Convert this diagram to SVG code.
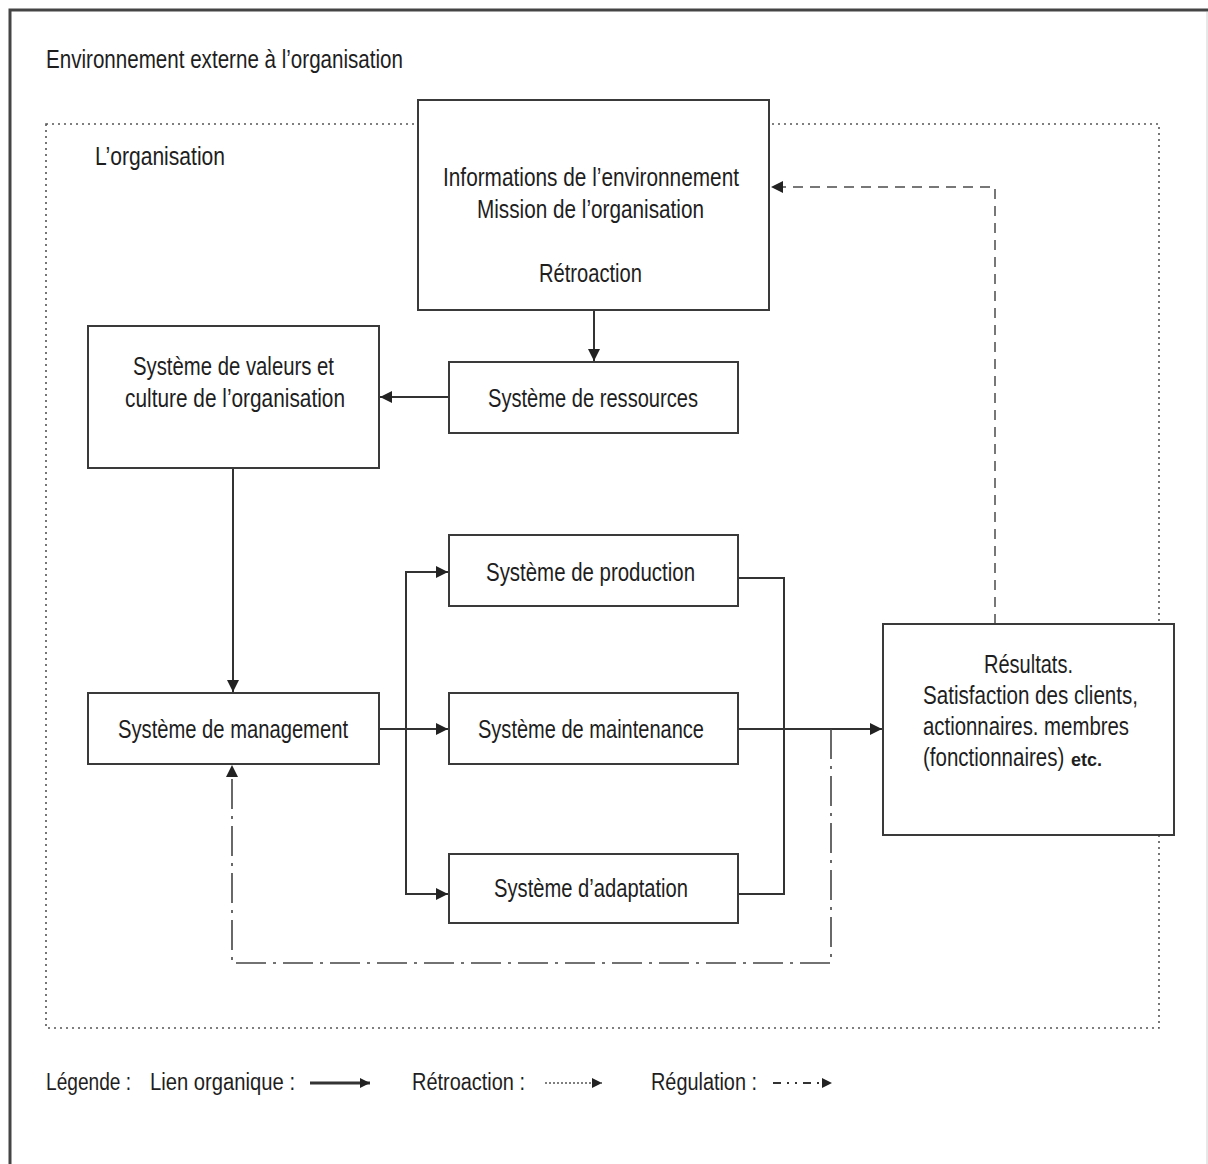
<svg xmlns="http://www.w3.org/2000/svg" width="1208" height="1164" viewBox="0 0 1208 1164">
  <style>
    .box { fill: #fff; stroke: #3a3a3a; stroke-width: 2; }
    .lbl { font-family: "Liberation Sans", Arial, sans-serif; font-size: 25px; fill: #1e1e1e; }
    .leg { font-family: "Liberation Sans", Arial, sans-serif; font-size: 23px; fill: #1e1e1e; }
    .link { fill: none; stroke: #333; stroke-width: 2; }
    .feedback { fill: none; stroke: #777; stroke-width: 2; stroke-dasharray: 10 7; }
    .regul { fill: none; stroke: #444; stroke-width: 1.6; stroke-dasharray: 30 7 3 7; }
    .frame { fill: none; stroke: #444; stroke-width: 3; }
    .org { fill: none; stroke: #555; stroke-width: 1.6; stroke-dasharray: 2 4; }
  </style>
  <defs>
    <marker id="arr" viewBox="0 0 10 10" refX="10" refY="5" markerWidth="12" markerHeight="12" markerUnits="userSpaceOnUse" orient="auto">
      <path d="M0,0 L10,5 L0,10 z" fill="#222"/>
    </marker>
    <marker id="arrS" viewBox="0 0 10 10" refX="10" refY="5" markerWidth="10" markerHeight="10" markerUnits="userSpaceOnUse" orient="auto">
      <path d="M0,0 L10,5 L0,10 z" fill="#222"/>
    </marker>
  </defs>

  <rect width="1208" height="1164" fill="#fff"/>

  <!-- outer frame: external environment -->
  <g id="environment">
    <path class="frame" d="M10,1164 V10 H1208"/>
    <line x1="1207" y1="12" x2="1207" y2="1164" stroke="#d0d0d0" stroke-width="1"/>
    <text class="lbl" x="46" y="68" textLength="357" lengthAdjust="spacingAndGlyphs">Environnement externe à l’organisation</text>
  </g>

  <!-- dotted boundary: the organisation -->
  <g id="organisation">
    <rect class="org" x="46" y="124" width="1113" height="904"/>
    <text class="lbl" x="95" y="165" textLength="130" lengthAdjust="spacingAndGlyphs">L’organisation</text>
  </g>

  <!-- connectors -->
  <g id="connectors">
    <!-- organic links -->
    <line class="link" x1="594" y1="310" x2="594" y2="361" marker-end="url(#arr)"/>
    <line class="link" x1="449" y1="397" x2="380" y2="397" marker-end="url(#arr)"/>
    <line class="link" x1="233" y1="468" x2="233" y2="692" marker-end="url(#arr)"/>
    <line class="link" x1="379" y1="729" x2="448" y2="729" marker-end="url(#arr)"/>
    <line class="link" x1="406" y1="571" x2="406" y2="895"/>
    <polyline class="link" points="406,572 448,572" marker-end="url(#arr)"/>
    <polyline class="link" points="406,894 448,894" marker-end="url(#arr)"/>
    <polyline class="link" points="738,578 784,578 784,894 738,894"/>
    <line class="link" x1="738" y1="729" x2="882" y2="729" marker-end="url(#arr)"/>
    <!-- feedback -->
    <polyline class="feedback" points="995,624 995,187 771,187" marker-end="url(#arr)"/>
    <!-- regulation -->
    <polyline class="regul" points="831,729 831,963 232,963 232,765" marker-end="url(#arr)"/>
  </g>

  <g id="informations">
    <rect class="box" x="418" y="100" width="351" height="210"/>
    <text class="lbl" x="443" y="186" textLength="296" lengthAdjust="spacingAndGlyphs">Informations de l’environnement</text>
    <text class="lbl" x="477" y="218" textLength="227" lengthAdjust="spacingAndGlyphs">Mission de l’organisation</text>
    <text class="lbl" x="539" y="282" textLength="103" lengthAdjust="spacingAndGlyphs">Rétroaction</text>
  </g>

  <g id="valeurs">
    <rect class="box" x="88" y="326" width="291" height="142"/>
    <text class="lbl" x="133" y="375" textLength="201" lengthAdjust="spacingAndGlyphs">Système de valeurs et</text>
    <text class="lbl" x="125" y="407" textLength="220" lengthAdjust="spacingAndGlyphs">culture de l’organisation</text>
  </g>

  <g id="ressources">
    <rect class="box" x="449" y="362" width="289" height="71"/>
    <text class="lbl" x="488" y="407" textLength="210" lengthAdjust="spacingAndGlyphs">Système de ressources</text>
  </g>

  <g id="production">
    <rect class="box" x="449" y="535" width="289" height="71"/>
    <text class="lbl" x="486" y="581" textLength="209" lengthAdjust="spacingAndGlyphs">Système de production</text>
  </g>

  <g id="management">
    <rect class="box" x="88" y="693" width="291" height="71"/>
    <text class="lbl" x="118" y="738" textLength="230" lengthAdjust="spacingAndGlyphs">Système de management</text>
  </g>

  <g id="maintenance">
    <rect class="box" x="449" y="693" width="289" height="71"/>
    <text class="lbl" x="478" y="738" textLength="226" lengthAdjust="spacingAndGlyphs">Système de maintenance</text>
  </g>

  <g id="adaptation">
    <rect class="box" x="449" y="854" width="289" height="69"/>
    <text class="lbl" x="494" y="897" textLength="194" lengthAdjust="spacingAndGlyphs">Système d’adaptation</text>
  </g>

  <g id="resultats">
    <rect class="box" x="883" y="624" width="291" height="211"/>
    <text class="lbl" x="984" y="673" textLength="89" lengthAdjust="spacingAndGlyphs">Résultats.</text>
    <text class="lbl" x="923" y="704" textLength="215" lengthAdjust="spacingAndGlyphs">Satisfaction des clients,</text>
    <text class="lbl" x="923" y="735" textLength="206" lengthAdjust="spacingAndGlyphs">actionnaires. membres</text>
    <!-- condensed by scaling so the box width stays true -->
    <text class="lbl" transform="translate(923,766) scale(0.82,1)">(fonctionnaires)</text>
    <text x="1071" y="766" font-family="Liberation Sans, Arial, sans-serif" font-size="18" font-weight="bold" fill="#1e1e1e">etc.</text>
  </g>

  <!-- legend -->
  <g id="legende">
    <text class="leg" x="46" y="1090" textLength="85" lengthAdjust="spacingAndGlyphs">Légende :</text>
    <text class="leg" x="150" y="1090" textLength="145" lengthAdjust="spacingAndGlyphs">Lien organique :</text>
    <line x1="310" y1="1083" x2="370" y2="1083" stroke="#333" stroke-width="3" marker-end="url(#arrS)"/>
    <text class="leg" x="412" y="1090" textLength="113" lengthAdjust="spacingAndGlyphs">Rétroaction :</text>
    <line x1="545" y1="1083" x2="602" y2="1083" stroke="#555" stroke-width="1.5" stroke-dasharray="2 2" marker-end="url(#arrS)"/>
    <text class="leg" x="651" y="1090" textLength="106" lengthAdjust="spacingAndGlyphs">Régulation :</text>
    <line x1="773" y1="1083" x2="832" y2="1083" stroke="#333" stroke-width="2" stroke-dasharray="8 6 2 6 2 6" marker-end="url(#arrS)"/>
  </g>
</svg>
